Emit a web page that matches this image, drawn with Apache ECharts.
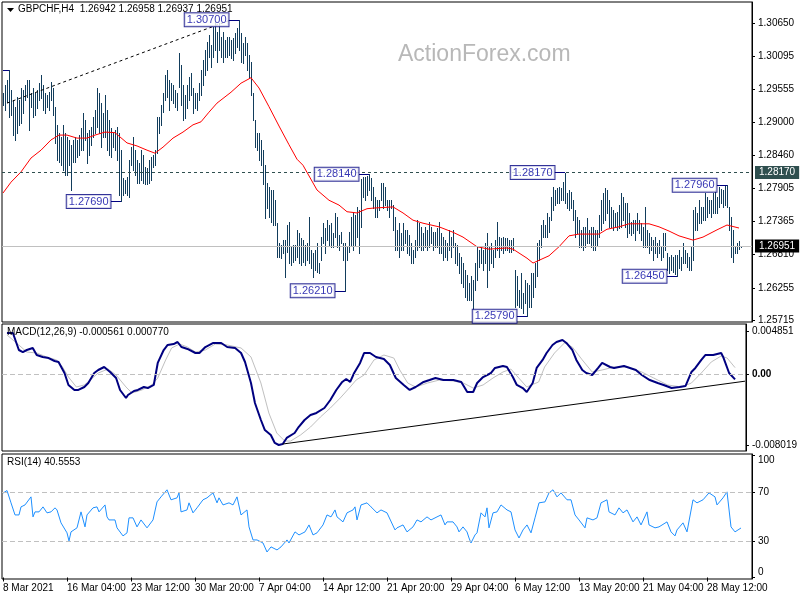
<!DOCTYPE html>
<html><head><meta charset="utf-8">
<script src="https://cdn.jsdelivr.net/npm/echarts@6/dist/echarts.min.js"></script>
<style>html,body{margin:0;padding:0;background:#fff}#c{width:800px;height:600px}</style>
</head><body><div id="c"></div>
<script>
// ---------- DATA ----------
const symbolName = 'GBPCHF,H4';
const lastOHLC = [1.26942, 1.26958, 1.26937, 1.26951];
const macdLegendValues = [-0.000561, 0.000770];
const rsiLegendValue = 40.5553;

const highs = [
1.2949,1.2962,1.2970,1.2987,1.2954,1.2937,1.2926,1.2942,1.2937,1.2957,
1.2954,1.2962,1.2970,1.2970,1.2949,1.2957,1.2949,1.2954,1.2965,1.2979,
1.2962,1.2949,1.2946,1.2951,1.2967,1.2957,1.2926,1.2896,1.2882,1.2875,
1.2896,1.2882,1.2875,1.2871,1.2863,1.2871,1.2875,1.2871,1.2879,1.2891,
1.2916,1.2904,1.2882,1.2887,1.2893,1.2909,1.2921,1.2957,1.2949,1.2932,
1.2916,1.2946,1.2921,1.2904,1.2891,1.2882,1.2887,1.2893,1.2882,1.2854,
1.2808,1.2805,1.2810,1.2838,1.2859,1.2875,1.2854,1.2838,1.2832,1.2854,
1.2846,1.2826,1.2825,1.2838,1.2843,1.2846,1.2854,1.2909,1.2909,1.2929,
1.2949,1.2979,1.2987,1.2970,1.2965,1.2962,1.2954,1.2949,1.3015,1.2995,
1.2962,1.2946,1.2962,1.2976,1.2982,1.2957,1.2949,1.2949,1.2965,1.2987,
1.3003,1.3020,1.3033,1.3045,1.3028,1.3058,1.3066,1.3050,1.3065,1.3041,
1.3050,1.3037,1.3041,1.3041,1.3037,1.3040,1.3048,1.3056,1.3070,1.3048,
1.3032,1.3041,1.3032,1.3012,1.3000,1.2949,1.2904,1.2882,1.2882,1.2871,
1.2854,1.2829,1.2800,1.2793,1.2788,1.2788,1.2771,1.2733,1.2700,1.2697,
1.2705,1.2705,1.2730,1.2735,1.2694,1.2697,1.2697,1.2722,1.2717,1.2709,
1.2705,1.2697,1.2700,1.2743,1.2689,1.2684,1.2689,1.2700,1.2667,1.2710,
1.2733,1.2725,1.2738,1.2730,1.2733,1.2717,1.2750,1.2743,1.2713,1.2719,
1.2700,1.2700,1.2694,1.2719,1.2743,1.2750,1.2747,1.2760,1.2755,1.2806,
1.2810,1.2810,1.2812,1.2814,1.2808,1.2793,1.2776,1.2771,1.2771,1.2800,
1.2800,1.2793,1.2771,1.2771,1.2771,1.2763,1.2743,1.2722,1.2733,1.2717,
1.2733,1.2722,1.2722,1.2713,1.2700,1.2689,1.2705,1.2738,1.2733,1.2727,
1.2717,1.2727,1.2722,1.2735,1.2727,1.2719,1.2719,1.2725,1.2735,1.2717,
1.2710,1.2705,1.2700,1.2722,1.2710,1.2722,1.2700,1.2697,1.2684,1.2677,
1.2667,1.2655,1.2647,1.2634,1.2645,1.2639,1.2667,1.2694,1.2689,1.2694,
1.2689,1.2700,1.2717,1.2694,1.2700,1.2689,1.2705,1.2735,1.2710,1.2709,
1.2710,1.2709,1.2709,1.2705,1.2705,1.2709,1.2655,1.2645,1.2622,1.2650,
1.2617,1.2639,1.2634,1.2631,1.2650,1.2650,1.2667,1.2700,1.2705,1.2730,
1.2738,1.2730,1.2750,1.2743,1.2776,1.2793,1.2788,1.2791,1.2793,1.2791,
1.2801,1.2817,1.2783,1.2788,1.2785,1.2771,1.2755,1.2743,1.2738,1.2722,
1.2727,1.2727,1.2742,1.2722,1.2727,1.2727,1.2722,1.2722,1.2747,1.2771,
1.2783,1.2791,1.2788,1.2771,1.2760,1.2755,1.2750,1.2752,1.2763,1.2783,
1.2776,1.2766,1.2766,1.2750,1.2735,1.2738,1.2738,1.2750,1.2738,1.2733,
1.2727,1.2760,1.2722,1.2717,1.2710,1.2705,1.2710,1.2700,1.2705,1.2694,
1.2717,1.2717,1.2684,1.2677,1.2680,1.2677,1.2680,1.2680,1.2689,1.2677,
1.2700,1.2689,1.2684,1.2677,1.2694,1.2755,1.2760,1.2750,1.2771,1.2760,
1.2760,1.2783,1.2776,1.2771,1.2771,1.2783,1.2788,1.2776,1.2793,1.2790,
1.2788,1.2794,1.2796,1.2760,1.2743,1.2722,1.2694,1.2700,1.2703,1.2696];

const lows = [
1.2929,1.2921,1.2934,1.2909,1.2912,1.2879,1.2871,1.2882,1.2896,1.2899,
1.2916,1.2937,1.2942,1.2887,1.2926,1.2909,1.2912,1.2924,1.2937,1.2940,
1.2921,1.2916,1.2926,1.2921,1.2937,1.2912,1.2866,1.2838,1.2834,1.2829,
1.2821,1.2813,1.2813,1.2829,1.2788,1.2834,1.2834,1.2843,1.2846,1.2854,
1.2854,1.2871,1.2832,1.2846,1.2863,1.2875,1.2882,1.2893,1.2882,1.2859,
1.2875,1.2875,1.2854,1.2846,1.2843,1.2859,1.2854,1.2838,1.2780,1.2769,
1.2780,1.2783,1.2780,1.2776,1.2829,1.2821,1.2813,1.2800,1.2800,1.2805,
1.2800,1.2798,1.2798,1.2800,1.2805,1.2826,1.2829,1.2849,1.2882,1.2896,
1.2917,1.2937,1.2942,1.2921,1.2937,1.2932,1.2926,1.2921,1.2959,1.2929,
1.2904,1.2907,1.2924,1.2937,1.2946,1.2916,1.2924,1.2921,1.2937,1.2946,
1.2962,1.2979,1.2987,1.3008,1.2992,1.3008,1.3020,1.3000,1.3020,1.3008,
1.3000,1.3008,1.3008,1.3012,1.3007,1.3003,1.3015,1.3025,1.3020,1.3000,
1.2998,1.3012,1.2987,1.2974,1.2946,1.2904,1.2859,1.2854,1.2838,1.2829,
1.2798,1.2742,1.2758,1.2743,1.2735,1.2730,1.2730,1.2677,1.2677,1.2675,
1.2684,1.2644,1.2685,1.2667,1.2664,1.2669,1.2672,1.2677,1.2667,1.2664,
1.2669,1.2664,1.2672,1.2667,1.2659,1.2644,1.2655,1.2652,1.2650,1.2672,
1.2700,1.2684,1.2705,1.2697,1.2694,1.2694,1.2710,1.2694,1.2689,1.2700,
1.2672,1.2621,1.2672,1.2685,1.2697,1.2689,1.2697,1.2710,1.2684,1.2727,
1.2776,1.2771,1.2780,1.2788,1.2771,1.2758,1.2743,1.2743,1.2755,1.2771,
1.2758,1.2763,1.2755,1.2743,1.2758,1.2722,1.2689,1.2689,1.2677,1.2689,
1.2689,1.2700,1.2684,1.2680,1.2667,1.2667,1.2677,1.2689,1.2694,1.2689,
1.2689,1.2694,1.2689,1.2694,1.2700,1.2689,1.2694,1.2694,1.2684,1.2684,
1.2672,1.2677,1.2672,1.2689,1.2677,1.2694,1.2667,1.2664,1.2650,1.2634,
1.2627,1.2611,1.2606,1.2606,1.2606,1.2589,1.2622,1.2639,1.2661,1.2667,
1.2655,1.2667,1.2627,1.2655,1.2667,1.2661,1.2677,1.2689,1.2677,1.2689,
1.2684,1.2689,1.2689,1.2685,1.2685,1.2689,1.2594,1.2597,1.2594,1.2592,
1.2584,1.2601,1.2579,1.2594,1.2594,1.2611,1.2627,1.2645,1.2672,1.2694,
1.2710,1.2710,1.2710,1.2719,1.2738,1.2755,1.2763,1.2766,1.2766,1.2771,
1.2771,1.2766,1.2758,1.2755,1.2758,1.2738,1.2710,1.2717,1.2694,1.2694,
1.2689,1.2694,1.2700,1.2700,1.2694,1.2689,1.2689,1.2697,1.2710,1.2722,
1.2733,1.2738,1.2750,1.2727,1.2727,1.2722,1.2727,1.2722,1.2725,1.2727,
1.2738,1.2727,1.2710,1.2717,1.2713,1.2717,1.2705,1.2722,1.2717,1.2705,
1.2694,1.2694,1.2694,1.2684,1.2689,1.2672,1.2684,1.2677,1.2684,1.2672,
1.2677,1.2689,1.2655,1.2650,1.2655,1.2652,1.2649,1.2645,1.2659,1.2655,
1.2667,1.2667,1.2661,1.2655,1.2655,1.2672,1.2722,1.2722,1.2733,1.2733,
1.2738,1.2738,1.2743,1.2750,1.2743,1.2750,1.2750,1.2750,1.2760,1.2766,
1.2760,1.2763,1.2760,1.2722,1.2677,1.2669,1.2684,1.2684,1.2690,1.2694];

const maBars = [0,4,9,14,19,24,28,32,37,42,46,51,56,62,67,72,76,80,85,90,95,99,103,107,114,119,124,128,133,138,143,147,150,157,163,168,172,177,182,185,195,200,205,210,218,225,230,237,243,252,255,262,265,273,278,283,288,298,302,308,313,323,328,333,338,345,350,357,362,368];
const maValues = [1.2783,1.2801,1.2818,1.2841,1.2854,1.2871,1.2879,1.2879,1.2874,1.2874,1.2879,1.2884,1.2883,1.2866,1.2861,1.2854,1.2849,1.2859,1.2874,1.2884,1.2896,1.2901,1.2917,1.2932,1.2950,1.2965,1.2974,1.2957,1.2926,1.2894,1.2863,1.2839,1.2829,1.2788,1.2771,1.2763,1.2752,1.2750,1.2757,1.2758,1.2760,1.2750,1.2738,1.2733,1.2727,1.2718,1.2710,1.2694,1.2690,1.2692,1.2690,1.2675,1.2667,1.2679,1.2694,1.2712,1.2715,1.2715,1.2723,1.2727,1.2732,1.2732,1.2727,1.2720,1.2712,1.2705,1.2710,1.2722,1.2730,1.2725];

const macdBars = [2,5,8,10,12,15,17,20,23,26,28,31,33,36,38,41,43,46,48,51,54,57,59,62,63,66,68,71,73,76,78,81,83,86,88,90,93,97,99,102,106,110,113,117,120,122,125,127,130,132,135,137,139,141,143,147,149,152,155,158,162,165,168,171,173,175,177,180,182,185,188,192,195,198,202,205,208,212,215,218,222,227,231,234,237,239,242,246,248,252,254,257,259,262,264,267,269,272,274,277,279,282,284,287,289,292,294,297,300,302,306,308,313,316,319,322,326,330,333,337,341,344,347,349,352,354,358,362,363,366,369];
const macdValues = [0.00470,0.00470,0.00277,0.00254,0.00277,0.00300,0.00220,0.00198,0.00186,0.00152,0.00141,0.00016,-0.00120,-0.00177,-0.00177,-0.00143,-0.00098,0.00016,0.00050,0.00084,0.00027,-0.00041,-0.00177,-0.00268,-0.00234,-0.00189,-0.00177,-0.00143,-0.00155,-0.00120,0.00130,0.00277,0.00334,0.00345,0.00368,0.00311,0.00289,0.00243,0.00243,0.00311,0.00357,0.00357,0.00311,0.00300,0.00243,0.00141,-0.00098,-0.00325,-0.00518,-0.00632,-0.00688,-0.00779,-0.00802,-0.00791,-0.00722,-0.00666,-0.00598,-0.00518,-0.00461,-0.00438,-0.00382,-0.00291,-0.00177,-0.00086,-0.00052,-0.00086,0.00016,0.00130,0.00243,0.00243,0.00198,0.00175,0.00107,-0.00041,-0.00120,-0.00177,-0.00143,-0.00086,-0.00064,-0.00041,-0.00064,-0.00064,-0.00086,-0.00200,-0.00200,-0.00098,-0.00030,0.00016,0.00073,0.00095,0.00084,-0.00030,-0.00120,-0.00155,-0.00200,-0.00098,0.00073,0.00164,0.00243,0.00334,0.00368,0.00391,0.00357,0.00277,0.00164,0.00050,0.00016,-0.00007,0.00073,0.00130,0.00084,0.00073,0.00095,0.00073,0.00050,-0.00007,-0.00064,-0.00098,-0.00120,-0.00155,-0.00143,-0.00132,0.00027,0.00073,0.00164,0.00220,0.00220,0.00243,0.00198,0.00016,-0.00056];

const signalBars = [2,8,12,17,22,27,30,33,37,41,44,48,53,57,62,65,70,75,78,82,85,89,93,97,102,107,113,120,125,130,134,138,142,145,150,155,160,165,170,175,178,182,187,192,197,200,204,208,214,220,227,232,237,242,247,252,256,260,264,270,273,278,283,287,292,297,302,308,315,322,328,335,342,347,352,357,362,365,369];
const signalValues = [0.00448,0.00334,0.00254,0.00243,0.00198,0.00164,0.00084,-0.00030,-0.00143,-0.00120,-0.00064,0.00016,0.00061,-0.00007,-0.00143,-0.00211,-0.00177,-0.00120,-0.00041,0.00164,0.00300,0.00345,0.00311,0.00254,0.00277,0.00345,0.00334,0.00300,0.00198,-0.00098,-0.00438,-0.00666,-0.00757,-0.00757,-0.00688,-0.00598,-0.00484,-0.00382,-0.00268,-0.00143,-0.00064,-0.00007,0.00164,0.00220,0.00186,0.00050,-0.00098,-0.00143,-0.00098,-0.00064,-0.00075,-0.00098,-0.00155,-0.00120,-0.00041,0.00027,0.00061,-0.00041,-0.00143,-0.00086,0.00084,0.00243,0.00357,0.00311,0.00164,0.00027,0.00050,0.00084,0.00084,0.00027,-0.00041,-0.00120,-0.00143,-0.00098,0.00016,0.00141,0.00209,0.00186,0.00077];

const rsiBars = [0,2,4,6,8,9,11,14,15,16,18,20,22,24,26,27,29,32,33,34,37,38,39,41,42,45,47,48,51,52,53,56,57,60,62,63,65,67,69,72,75,77,79,82,84,87,88,89,92,93,95,97,100,102,105,107,108,110,113,115,117,119,122,123,125,127,130,132,134,137,139,142,143,146,148,151,153,155,157,160,162,164,166,167,170,172,175,176,177,179,182,184,187,189,192,193,196,197,200,202,205,207,209,212,214,217,219,221,222,225,227,228,230,232,233,234,236,237,239,241,242,243,245,247,249,252,254,256,258,260,262,264,266,268,271,273,275,277,279,282,284,286,288,291,292,295,297,299,302,303,306,308,310,312,315,317,319,322,323,326,328,332,334,336,337,340,342,345,347,350,353,356,357,360,362,364,366,369];
const rsiValues = [69.2,71.3,61.2,51.3,51.3,57.9,59.5,66.1,49.7,53.8,53.8,57.9,53.0,53.8,57.1,55.4,44.8,36.6,30.0,37.4,40.7,41.5,53.8,41.5,51.3,57.1,57.9,53.8,59.5,49.7,47.2,47.2,40.7,34.1,36.6,48.9,48.9,41.5,47.2,40.7,47.2,62.0,66.1,71.9,63.7,65.3,69.4,53.8,55.4,61.2,53.0,57.1,63.7,65.3,69.4,61.2,65.3,59.5,61.2,59.5,66.1,51.3,55.4,41.5,30.8,30.8,28.3,20.9,25.1,22.6,25.1,30.8,28.3,37.4,34.9,37.4,43.1,34.9,36.6,43.1,51.3,49.7,55.4,49.7,45.6,53.0,55.4,57.9,47.2,59.5,61.2,57.9,53.0,55.4,53.0,53.8,39.0,40.7,43.1,37.4,41.5,47.2,45.6,49.7,47.2,49.7,51.3,43.1,45.6,45.6,41.5,37.4,41.5,37.4,32.4,28.3,34.9,36.6,53.0,49.7,57.1,40.7,53.0,53.8,59.5,55.4,53.8,39.0,32.4,39.0,43.1,36.6,48.9,61.2,62.0,69.4,71.9,66.1,69.4,63.7,63.7,51.3,47.2,40.7,48.9,47.2,48.9,61.2,63.7,53.8,51.3,57.1,53.0,55.4,45.6,49.7,43.1,53.8,43.1,40.7,41.5,45.6,37.4,34.1,39.0,44.8,37.4,63.7,61.2,63.7,69.4,66.1,59.5,65.3,70.2,41.5,37.4,40.6];

// annotated swing points (bar index, price)
const noteBars = [118, 59, 183, 171, 262, 281, 362, 337];
const noteValues = [1.3070, 1.2769, 1.2814, 1.2621, 1.2579, 1.2817, 1.2796, 1.2645];
const edgeNoteBar = 3;          // label lies off the left edge, only its connector shows
const edgeNoteValue = 1.2987;
const resistanceLevel = 1.2817;
const lastPrice = 1.26951;
const trendStart = [2, 1.2932];
const trendEnd = [114, 1.3070];
const macdTrendStart = [141, -0.00791];
const macdTrendEnd = [374, -0.00077];

const priceTicks = [1.30650, 1.30095, 1.29555, 1.29000, 1.28460, 1.27905, 1.27365, 1.26810, 1.26255, 1.25715];
const macdTicks = [0.004851, 0, -0.008019];
const rsiTicks = [100, 70, 30, 0];
const rsiLevels = [70, 30];
const tickLabels = ['8 Mar 2021','16 Mar 04:00','23 Mar 12:00','30 Mar 20:00','7 Apr 04:00','14 Apr 12:00','21 Apr 20:00','29 Apr 04:00','6 May 12:00','13 May 20:00','21 May 04:00','28 May 12:00'];
const tickBars = [0,32,64,96,128,160,192,224,256,288,320,352];

// ---------- CHART ----------
const SLOTS = 375;
const categories = Array.from({length: SLOTS}, (_, i) => String(i));
const FONT = '"Liberation Sans", Arial, sans-serif';
const BAR_COLOR = '#123d5c';
const NOTE_OFFSET = 5;

const pairs = (xs, ys) => xs.map((x, k) => [x, ys[k]]);
const barData = highs.map((h, i) => [i, h, lows[i]]);
const noteData = noteBars.map((b, k) => [b - NOTE_OFFSET, noteValues[k]]);

function renderBar(params, api) {
  const i = api.value(0);
  const a = api.coord([i, api.value(1)]);
  const b = api.coord([i, api.value(2)]);
  const x = Math.round(a[0]) + 0.5;
  return { type: 'line', shape: { x1: x, y1: Math.round(a[1]), x2: x, y2: Math.round(b[1]) + 1 },
           style: { stroke: BAR_COLOR, lineWidth: 1 } };
}

const txt = { fontFamily: FONT, fontSize: 10, color: '#000' };
const gridBase = { show: true, borderColor: '#000', borderWidth: 1, backgroundColor: '#fff', left: 2, width: 750 };
const hiddenX = (g) => ({ type: 'category', gridIndex: g, data: categories, boundaryGap: true, show: false });
const yBase = (g, min, max, ticks, fmt, rich) => ({
  type: 'value', gridIndex: g, position: 'right', min, max,
  splitLine: { show: false },
  axisLine: { show: true, lineStyle: { color: '#000' } },
  axisTick: { show: true, length: 3, customValues: ticks, lineStyle: { color: '#000' } },
  axisLabel: Object.assign({ customValues: ticks, formatter: fmt, margin: 6, rich: rich || {} }, txt)
});
const flagLabel = (text, bg) => ({ show: true, position: 'end', distance: 3, formatter: text, backgroundColor: bg,
  color: '#fff', padding: [2, 4, 1, 4], fontFamily: FONT, fontSize: 10 });

const option = {
  animation: false,
  backgroundColor: '#fff',
  title: [
    { text: symbolName + '  ' + lastOHLC.map(v => v.toFixed(5)).join(' '), left: 18, top: 4, padding: 0, textStyle: Object.assign({ fontWeight: 'normal' }, txt) },
    { text: 'MACD(12,26,9) ' + macdLegendValues[0].toFixed(6) + ' ' + macdLegendValues[1].toFixed(6), left: 7, top: 327, padding: 0, textStyle: Object.assign({ fontWeight: 'normal' }, txt) },
    { text: 'RSI(14) ' + rsiLegendValue.toFixed(4), left: 7, top: 457, padding: 0, textStyle: Object.assign({ fontWeight: 'normal' }, txt) }
  ],
  graphic: [
    { type: 'polygon', shape: { points: [[7, 8], [14, 8], [10.5, 12]] }, style: { fill: '#000' }, z: 10 },
    { type: 'text', left: 398, top: 43, z: 0, style: { text: 'ActionForex.com', fill: '#b8b8b8', font: '23px "Liberation Sans", Arial, sans-serif' } }
  ],
  grid: [
    Object.assign({ top: 2, height: 320 }, gridBase),
    Object.assign({ top: 324, height: 127 }, gridBase),
    Object.assign({ top: 454, height: 125 }, gridBase)
  ],
  xAxis: [
    hiddenX(0), hiddenX(1),
    { type: 'category', gridIndex: 2, data: categories, boundaryGap: true,
      axisLine: { show: false },
      axisTick: { show: true, alignWithLabel: true, length: 4, interval: (i) => tickBars.includes(i), lineStyle: { color: '#000' } },
      axisLabel: Object.assign({ interval: (i) => tickBars.includes(i), formatter: (v) => tickLabels[tickBars.indexOf(Number(v))] || '', align: 'left', margin: 4 }, txt) }
  ],
  yAxis: [
    yBase(0, 1.25693, 1.30995, priceTicks, v => v.toFixed(5)),
    yBase(1, -0.008702, 0.005725, macdTicks, v => v === 0 ? '{b|0.00}' : v.toFixed(6), { b: { fontWeight: 'bold', fontFamily: FONT, fontSize: 10, color: '#000' } }),
    yBase(2, -1.23, 101.25, rsiTicks, v => v === 100 ? '{dn|100}' : (v === 0 ? '{up|0}' : String(v)),
      { dn: { padding: [10, 0, 0, 0], fontFamily: FONT, fontSize: 10, color: '#000' }, up: { padding: [0, 0, 10, 0], fontFamily: FONT, fontSize: 10, color: '#000' } })
  ],
  series: [
    { type: 'line', name: 'levels', xAxisIndex: 0, yAxisIndex: 0, data: pairs(maBars, maValues), showSymbol: false, symbol: 'none',
      lineStyle: { opacity: 0 }, z: 1, silent: true,
      markLine: { silent: true, symbol: ['none', 'none'], animation: false, precision: 6,
        data: [
          { yAxis: lastPrice, lineStyle: { color: '#c0c0c0', type: 'solid', width: 1 }, label: flagLabel(lastPrice.toFixed(5), '#000') },
          { yAxis: resistanceLevel, lineStyle: { color: '#2f4f4f', type: [3, 3], width: 1 }, label: flagLabel(resistanceLevel.toFixed(5), '#2f4f4f') }
        ] } },
    { type: 'custom', name: 'bars', xAxisIndex: 0, yAxisIndex: 0, data: barData, renderItem: renderBar,
      encode: { x: 0, y: [1, 2] }, clip: true, z: 3, silent: true },
    { type: 'line', name: 'MA', xAxisIndex: 0, yAxisIndex: 0, data: pairs(maBars, maValues), showSymbol: false, symbol: 'none',
      lineStyle: { color: '#ff0000', width: 1 }, z: 4, silent: true },
    { type: 'scatter', name: 'notes', xAxisIndex: 0, yAxisIndex: 0, data: noteData, symbolSize: 1, z: 6, silent: true,
      itemStyle: { color: 'rgba(0,0,0,0)' },
      label: { show: true, position: 'left', distance: 0, formatter: p => p.value[1].toFixed(5),
        color: '#0000a0', fontFamily: FONT, fontSize: 11, lineHeight: 12, backgroundColor: '#fff',
        borderColor: '#000080', borderWidth: 1, padding: [1, 2, 0, 2] },
      markLine: { silent: true, symbol: ['none', 'none'], animation: false, label: { show: false }, precision: 6,
        lineStyle: { color: '#000080', type: 'solid', width: 1 },
        data: noteBars.map((b, k) => [{ coord: [b - NOTE_OFFSET, noteValues[k]] }, { coord: [b, noteValues[k]] }])
          .concat([[{ coord: [0, edgeNoteValue] }, { coord: [edgeNoteBar, edgeNoteValue] }]])
          .concat([[{ coord: trendStart, lineStyle: { color: '#000', type: [3, 3], width: 1 } }, { coord: trendEnd }]]) } },
    { type: 'line', name: 'MACD', xAxisIndex: 1, yAxisIndex: 1, data: pairs(macdBars, macdValues), showSymbol: false, symbol: 'none',
      lineStyle: { color: '#000080', width: 2 }, z: 4, silent: true,
      markLine: { silent: true, symbol: ['none', 'none'], animation: false, label: { show: false }, precision: 6,
        data: [
          { yAxis: 0, lineStyle: { color: '#c0c0c0', type: [5, 3], width: 1 } },
          [{ coord: macdTrendStart, lineStyle: { color: '#000', type: 'solid', width: 1 } }, { coord: macdTrendEnd }]
        ] } },
    { type: 'line', name: 'Signal', xAxisIndex: 1, yAxisIndex: 1, data: pairs(signalBars, signalValues), showSymbol: false, symbol: 'none',
      lineStyle: { color: '#c0c0c0', width: 1 }, z: 3, silent: true },
    { type: 'line', name: 'RSI', xAxisIndex: 2, yAxisIndex: 2, data: pairs(rsiBars, rsiValues), showSymbol: false, symbol: 'none',
      lineStyle: { color: '#1e90ff', width: 1 }, z: 4, silent: true,
      markLine: { silent: true, symbol: ['none', 'none'], animation: false, label: { show: false },
        lineStyle: { color: '#c0c0c0', type: [5, 3], width: 1 },
        data: rsiLevels.map(v => ({ yAxis: v })) } }
  ]
};

const chart = echarts.init(document.getElementById('c'), null, { renderer: 'canvas' });
chart.setOption(option);
</script>
</body></html>
